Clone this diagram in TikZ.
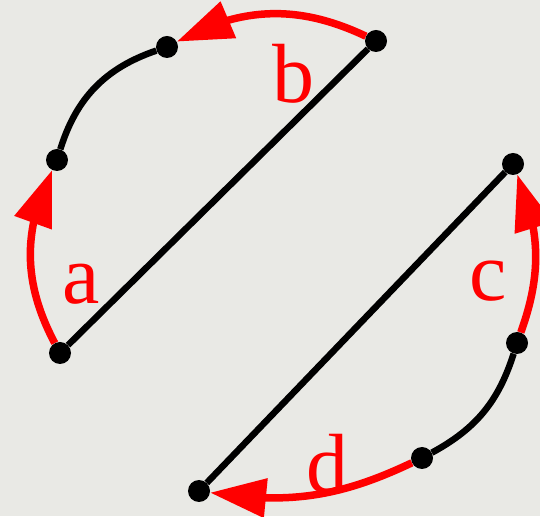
\documentclass[tikz,border=0pt]{standalone}
\usepackage{fontspec}
\setmainfont{Liberation Serif}
\usetikzlibrary{arrows.meta,bending}
\pgfdeclarelayer{back}
\pgfdeclarelayer{links}
\pgfsetlayers{back,links,main}
\definecolor{bgcol}{RGB}{233,233,229}
\definecolor{arcred}{RGB}{255,0,0}
\tikzset{
  dot/.style={circle,fill=black,inner sep=0pt,minimum size=22pt},
  blackline/.style={draw=black,line width=6.5pt},
  redarc/.style={draw=arcred,line width=7.5pt,-{Triangle[length=56pt,width=38pt,flex]}},
  lbl/.style={text=arcred,inner sep=0pt,font=\fontsize{84}{84}\selectfont}
}
\begin{document}
\begin{tikzpicture}[x=1pt,y=1pt]
\begin{pgfonlayer}{back}
\fill[bgcol] (0,0) rectangle (540,516);
\end{pgfonlayer}
\useasboundingbox (0,0) rectangle (540,516);
\node[dot] (p1) at (60,163) {};
\node[dot] (p2) at (57,356) {};
\node[dot] (p3) at (167,469) {};
\node[dot] (p4) at (376,475) {};
\node[dot] (p5) at (513,352) {};
\node[dot] (p6) at (517,173) {};
\node[dot] (p7) at (422,58) {};
\node[dot] (p8) at (199,25) {};
\node[lbl] (la) at (81,232) {a};
\node[lbl] (lb) at (293,442) {b};
\node[lbl] (lc) at (488,235) {c};
\node[lbl] (ld) at (327,52) {d};
\begin{pgfonlayer}{links}
\draw[redarc] (p1) to[bend left=27] (p2);
\draw[blackline] (p2) to[bend left=27] (p3);
\draw[redarc] (p4) to[bend right=27] (p3);
\draw[redarc] (p6) to[bend right=21] (p5);
\draw[blackline] (p6) to[bend left=22] (p7);
\draw[redarc] (p7) to[bend left=17] (p8);
\draw[blackline] (p1) -- (p4);
\draw[blackline] (p5) -- (p8);
\end{pgfonlayer}
\end{tikzpicture}
\end{document}
